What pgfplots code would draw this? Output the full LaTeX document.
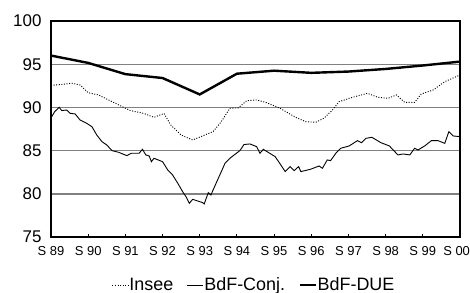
\documentclass[border=0pt]{standalone}
\usepackage{fontspec}
\setmainfont{Liberation Sans}
\usepackage{pgfplots}
\pgfplotsset{compat=1.18}
\pgfplotstableread{
x y
1989.00 92.55
1989.33 92.67
1989.56 92.80
1989.78 92.60
1990.00 91.70
1990.28 91.44
1990.55 90.86
1990.91 90.10
1991.14 89.63
1991.50 89.30
1991.77 88.85
1992.04 89.30
1992.22 87.97
1992.50 86.80
1992.81 86.23
1993.08 86.70
1993.36 87.20
1993.58 88.35
1993.81 89.90
1994.04 89.95
1994.26 90.78
1994.53 90.86
1994.80 90.55
1995.16 89.90
1995.58 88.85
1995.85 88.35
1996.12 88.28
1996.34 88.74
1996.57 89.70
1996.75 90.67
1997.11 91.17
1997.51 91.63
1997.79 91.17
1998.06 91.05
1998.29 91.44
1998.51 90.59
1998.78 90.59
1998.96 91.56
1999.28 92.02
1999.59 92.98
2000.00 93.75
}\insee
\pgfplotstableread{
x y
1989.02 88.93
1989.10 89.51
1989.22 90.01
1989.29 89.63
1989.42 89.70
1989.51 89.32
1989.65 89.24
1989.78 88.55
1989.96 88.16
1990.10 87.77
1990.23 86.81
1990.37 86.04
1990.50 85.65
1990.64 85.00
1990.82 84.80
1991.04 84.42
1991.16 84.69
1991.37 84.69
1991.46 85.15
1991.55 84.50
1991.64 84.38
1991.70 83.72
1991.77 84.11
1992.00 83.72
1992.14 82.76
1992.27 82.18
1992.41 81.22
1992.54 80.25
1992.63 79.67
1992.72 78.90
1992.81 79.36
1993.08 78.98
1993.12 78.82
1993.23 80.13
1993.30 79.86
1993.44 81.22
1993.54 82.18
1993.68 83.53
1993.81 84.11
1994.08 85.00
1994.19 85.70
1994.35 85.77
1994.53 85.46
1994.62 84.69
1994.71 85.15
1995.03 84.30
1995.30 82.57
1995.43 83.15
1995.54 82.68
1995.66 83.15
1995.72 82.57
1995.98 82.84
1996.21 83.22
1996.30 82.95
1996.43 83.92
1996.52 83.84
1996.66 84.69
1996.79 85.27
1997.02 85.54
1997.24 86.15
1997.35 85.92
1997.47 86.42
1997.63 86.54
1997.87 85.92
1998.10 85.54
1998.33 84.50
1998.47 84.61
1998.65 84.50
1998.78 85.27
1998.87 85.07
1999.05 85.54
1999.23 86.15
1999.41 86.15
1999.59 85.84
1999.70 87.19
1999.82 86.69
2000.00 86.62
}\conj
\pgfplotstableread{
x y
1989 96.00
1990 95.15
1991 93.85
1992 93.40
1993 91.50
1994 93.90
1995 94.25
1996 94.00
1997 94.15
1998 94.45
1999 94.85
2000 95.30
}\due
\begin{document}
\begin{tikzpicture}
\useasboundingbox (-51bp,-56bp) rectangle (419bp,237bp);
\begin{axis}[
  scale only axis,
  width=409bp, height=216bp,
  xmin=1989, xmax=2000,
  ymin=75, ymax=100,
  axis line style={line width=2bp},
  xtick={1989,...,2000},
  xticklabels={S 89,S 90,S 91,S 92,S 93,S 94,S 95,S 96,S 97,S 98,S 99,{\makebox[20bp][r]{S 00}}},
  xticklabel style={font=\fontsize{13}{14}\selectfont, yshift=-6bp},
  xtick style={black, line width=0.8bp},
  xtick pos=bottom, xtick align=inside,
  major tick length=3bp,
  ytick={75,80,...,100},
  yticklabel style={font=\fontsize{17}{18}\selectfont, xshift=-6bp},
  ytick style={draw=none},
  ymajorgrids,
  major grid style={gray, line width=1.4bp},
  /pgf/number format/assume math mode=true,
  legend columns=3,
  legend style={draw=none, fill=none, font=\fontsize{18}{19}\selectfont,
    at={(axis description cs:0.495,-0.222)}, anchor=center,
    nodes={inner xsep=0.6bp},
    /tikz/every even column/.append style={column sep=13bp}},
  legend image code/.code={\draw[#1] (0bp,0bp) -- (16bp,0bp);},
]
\addplot[black, line width=0.9bp, dash pattern=on 1bp off 1.6bp] table[x=x,y=y] {\insee};
\addlegendentry{Insee}
\addplot[black, line width=0.9bp] table[x=x,y=y] {\conj};
\addlegendentry{BdF-Conj.}
\addplot[black, line width=2.4bp] table[x=x,y=y] {\due};
\addlegendentry{BdF-DUE}
\end{axis}
\end{tikzpicture}
\end{document}
